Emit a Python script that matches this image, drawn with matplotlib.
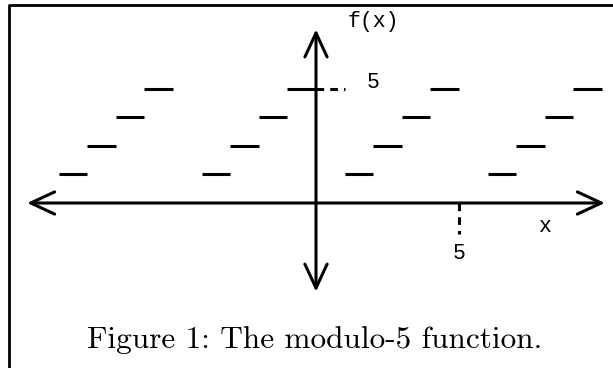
import matplotlib
matplotlib.use("Agg")
import matplotlib.pyplot as plt
import numpy as np
from matplotlib.lines import Line2D

# step segments of f(x) = floor(x) mod 5, each one unit wide
seg_starts = [-10, -9, -8, -7, -6, -5, -4, -3, -2, -1, 0, 1, 2, 3, 4, 5, 6, 7, 8, 9]
seg_levels = [0, 1, 2, 3, 4, 0, 1, 2, 3, 4, 0, 1, 2, 3, 4, 0, 1, 2, 3, 4]
x_tick_value = 5
y_tick_level = 4
y_tick_label = "5"
caption = "Figure 1: The modulo-5 function."

W, H, dpi = 613, 368, 100
unit = 28.6            # pixels per data unit
ox, oy = 316, 203      # origin in pixels (from top-left)

fig = plt.figure(figsize=(W / dpi, H / dpi), dpi=dpi)
ax = fig.add_axes([0, 0, 1, 1])
ax.set_xlim(-ox / unit, (W - ox) / unit)
ax.set_ylim(-(H - oy) / unit, oy / unit)
ax.axis("off")

lw = 2.2
mono = "Liberation Mono"

# axes with open arrow heads
arrow = dict(arrowstyle="<->,head_length=0.86,head_width=0.4", lw=lw,
             color="black", shrinkA=0, shrinkB=0, mutation_scale=20)
ax.annotate("", xy=(-10.1, 0), xytext=(10.1, 0), arrowprops=arrow)
ax.annotate("", xy=(0, -3.1), xytext=(0, 6.07), arrowprops=arrow)

# step segments (level 0 lies on the x axis itself)
starts = np.array(seg_starts)
levels = np.array(seg_levels)
up = levels > 0
ax.hlines(levels[up], starts[up], starts[up] + 1, colors="black", lw=lw)

# dashed ticks
ax.plot([x_tick_value, x_tick_value], [0, -1.1], color="black", lw=lw,
        ls=(0, (2.5, 2)))
ax.plot([0, 1], [y_tick_level, y_tick_level], color="black", lw=lw,
        ls=(0, (2.5, 2)))

# labels
fs = 15.5
ax.text(x_tick_value, -1.76, "5", family=mono, fontsize=fs, ha="center", va="center")
ax.text(1.98, 4.23, y_tick_label, family=mono, fontsize=fs, ha="center", va="center")
ax.text(7.98, -0.83, "x", family=mono, fontsize=fs, ha="center", va="center")
ax.text(2.0, 6.33, "f(x)", family=mono, fontsize=fs, ha="center", va="center")

# caption
fig.text(314.5 / W, 1 - 340 / H, caption, family="cmr10", fontsize=22.5,
         ha="center", va="center")

# frame (left and top only)
fig.add_artist(Line2D([8.5 / W, 8.5 / W, 1], [0, 1 - 5 / H, 1 - 5 / H],
                      transform=fig.transFigure, color="black", lw=2))

fig.savefig("out.png", dpi=dpi)
